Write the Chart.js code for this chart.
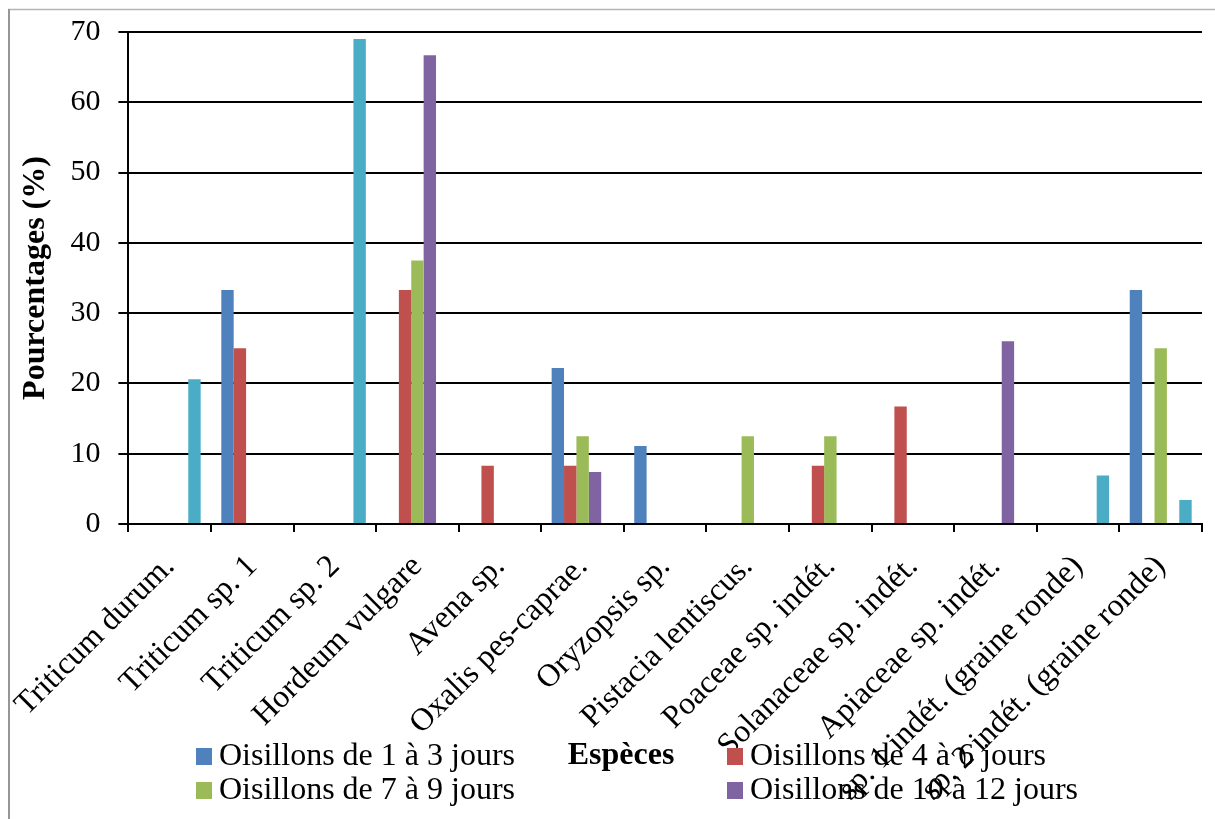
<!DOCTYPE html>
<html>
<head>
<meta charset="utf-8">
<script src="https://cdn.jsdelivr.net/npm/chart.js@4/dist/chart.umd.min.js"></script>
<style>
  html, body { margin: 0; padding: 0; background: #fff; }
  #wrap { position: relative; width: 1215px; height: 819px; }
</style>
</head>
<body>
<div id="wrap"><canvas id="c" width="1215" height="819"></canvas></div>
<script>
// Espèces consommées (catégories de l'axe X)
const especes = [
  'Triticum durum.', 'Triticum sp. 1', 'Triticum sp. 2', 'Hordeum vulgare',
  'Avena sp.', 'Oxalis pes-caprae.', 'Oryzopsis sp.', 'Pistacia lentiscus.',
  'Poaceae sp. indét.', 'Solanaceae sp. indét.', 'Apiaceae sp. indét.',
  'sp. 1 indét. (graine ronde)', 'sp. 2 indét. (graine ronde)'
];

// Pourcentages par classe d'âge des oisillons
const age1a3   = [null, 33.3, null, null, null, 22.2, 11.1, null, null, null, null, null, 33.3];
const age4a6   = [null, 25.0, null, 33.3, 8.3, 8.3, null, null, 8.3, 16.7, null, null, null];
const age7a9   = [null, null, null, 37.5, null, 12.5, null, 12.5, 12.5, null, null, null, 25.0];
const age10a12 = [null, null, null, 66.7, null, 7.4, null, null, null, null, 26.0, null, null];
const serie5   = [20.6, null, 69.0, null, null, null, null, null, null, null, null, 6.9, 3.4];

const yTicks = [0, 10, 20, 30, 40, 50, 60, 70];

const SERIF = '"Liberation Serif", "Times New Roman", serif';

// Cadre, légende en deux lignes et titre de l'axe X
const decor = {
  id: 'decor',
  beforeDraw(chart) {
    const ctx = chart.ctx;
    ctx.save();
    ctx.strokeStyle = '#b4b4b4';
    ctx.lineWidth = 1.5;
    ctx.beginPath();
    ctx.moveTo(8, 9.5);
    ctx.lineTo(1215, 9.5);
    ctx.stroke();
    ctx.strokeStyle = '#969696';
    ctx.lineWidth = 2;
    ctx.beginPath();
    ctx.moveTo(9, 9);
    ctx.lineTo(9, 819);
    ctx.stroke();
    ctx.restore();
  },
  afterDraw(chart) {
    const ctx = chart.ctx;
    ctx.save();
    ctx.font = 'bold 32px ' + SERIF;
    ctx.fillStyle = '#000';
    ctx.textAlign = 'center';
    ctx.textBaseline = 'middle';
    ctx.fillText('Espèces', 621, 756);

    const slots = [[196, 756], [727, 756], [196, 790], [727, 790]];
    ctx.font = '32px ' + SERIF;
    ctx.textAlign = 'left';
    for (let i = 0; i < 4; i++) {
      const ds = chart.data.datasets[i];
      const [x, y] = slots[i];
      ctx.fillStyle = ds.backgroundColor;
      ctx.fillRect(x, y - 8, 16, 17);
      ctx.fillStyle = '#000';
      ctx.fillText(ds.label, x + 23, y + 1);
    }
    ctx.restore();
  }
};

new Chart(document.getElementById('c'), {
  type: 'bar',
  data: {
    labels: especes,
    datasets: [
      { label: 'Oisillons de 1 à 3 jours',   data: age1a3,   backgroundColor: '#4F81BD' },
      { label: 'Oisillons de 4 à 6 jours',   data: age4a6,   backgroundColor: '#C0504D' },
      { label: 'Oisillons de 7 à 9 jours',   data: age7a9,   backgroundColor: '#9BBB59' },
      { label: 'Oisillons de 10 à 12 jours', data: age10a12, backgroundColor: '#8064A2' },
      { label: 'Série 5',                    data: serie5,   backgroundColor: '#4BACC6' }
    ]
  },
  options: {
    responsive: false,
    animation: false,
    events: [],
    datasets: { bar: { categoryPercentage: 0.75, barPercentage: 1.0, skipNull: false } },
    layout: { padding: { left: 0, right: 13, top: 32, bottom: 0 } },
    plugins: { legend: { display: false }, tooltip: { enabled: false } },
    scales: {
      x: {
        afterFit(s) { s.height = 295; },
        border: { display: true, color: '#000', width: 2 },
        grid: { offset: true, drawOnChartArea: false, drawTicks: true, tickLength: 8, color: '#000', lineWidth: 2 },
        ticks: {
          color: '#000', font: { family: SERIF, size: 32 },
          maxRotation: 45, minRotation: 45, autoSkip: false, padding: 16
        }
      },
      y: {
        min: 0, max: 70,
        afterFit(s) { s.width = 128; s.paddingTop = 0; s.paddingBottom = 0; },
        afterBuildTicks(s) { s.ticks = yTicks.map(v => ({ value: v })); },
        border: { display: true, color: '#000', width: 2 },
        grid: { color: '#000', lineWidth: 2, tickLength: 10, drawTicks: true },
        ticks: { color: '#000', font: { family: SERIF, size: 30 }, padding: 18 },
        title: {
          display: true, text: 'Pourcentages (%)', color: '#000',
          font: { family: SERIF, size: 32, weight: 'bold' }, padding: { top: 16, bottom: 0 }
        }
      }
    }
  },
  plugins: [decor]
});
</script>
</body>
</html>
